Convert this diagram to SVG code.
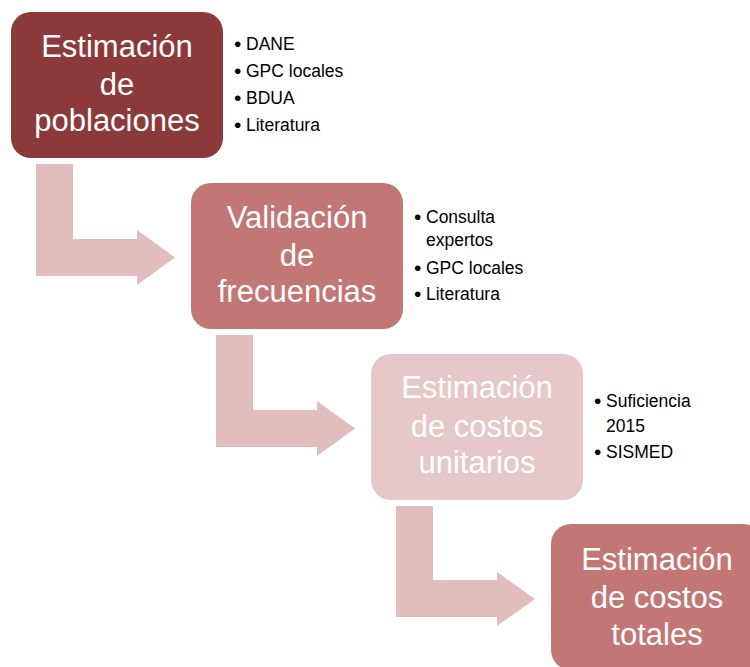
<svg xmlns="http://www.w3.org/2000/svg" width="750" height="667" viewBox="0 0 750 667">
<style>
.box{stroke:none}
.t{font-family:"Liberation Sans",Arial,sans-serif;font-size:31px;fill:#ffffff;text-anchor:middle}
.b{font-family:"Liberation Sans",Arial,sans-serif;font-size:17.5px;fill:#000000}
.d{font-family:"Liberation Sans",Arial,sans-serif;font-size:21px;fill:#000000}
.arrow{fill:#E1BEBD;stroke:none}
</style>
<rect width="750" height="667" fill="#ffffff"/>
<g id="connectors">
<path class="arrow" d="M36,164 L73,164 L73,239 L137,239 L137,230 L175,257.5 L137,285 L137,276 L36,276 Z"/>
<path class="arrow" d="M216,335 L253,335 L253,410 L317,410 L317,401 L355,428.5 L317,456 L317,447 L216,447 Z"/>
<path class="arrow" d="M396,506 L433,506 L433,580 L497,580 L497,572 L535,599 L497,626 L497,617 L396,617 Z"/>
</g>
<g id="node1">
<rect class="box" x="11" y="12" width="212" height="146" rx="20" fill="#8C3A39"/>
<text class="t" x="117" y="57">Estimación</text>
<text class="t" x="117" y="95">de</text>
<text class="t" x="117" y="131">poblaciones</text>
</g>
<g id="list1">
<text class="d" x="234" y="51">•</text><text class="b" x="246" y="50">DANE</text>
<text class="d" x="234" y="78">•</text><text class="b" x="246" y="77">GPC locales</text>
<text class="d" x="234" y="105">•</text><text class="b" x="246" y="104">BDUA</text>
<text class="d" x="234" y="132">•</text><text class="b" x="246" y="131">Literatura</text>
</g>
<g id="node2">
<rect class="box" x="191" y="183" width="212" height="146" rx="20" fill="#C37775"/>
<text class="t" x="297" y="228">Validación</text>
<text class="t" x="297" y="266">de</text>
<text class="t" x="297" y="302">frecuencias</text>
</g>
<g id="list2">
<text class="d" x="414" y="224">•</text><text class="b" x="426" y="223">Consulta</text>
<text class="b" x="426" y="246">expertos</text>
<text class="d" x="414" y="275">•</text><text class="b" x="426" y="274">GPC locales</text>
<text class="d" x="414" y="301">•</text><text class="b" x="426" y="300">Literatura</text>
</g>
<g id="node3">
<rect class="box" x="371" y="354" width="212" height="146" rx="20" fill="#E6C8C8"/>
<text class="t" x="477" y="398">Estimación</text>
<text class="t" x="477" y="437">de costos</text>
<text class="t" x="477" y="473">unitarios</text>
</g>
<g id="list3">
<text class="d" x="594" y="408">•</text><text class="b" x="606" y="407">Suficiencia</text>
<text class="b" x="606" y="432">2015</text>
<text class="d" x="594" y="459">•</text><text class="b" x="606" y="458">SISMED</text>
</g>
<g id="node4">
<rect class="box" x="551" y="524" width="212" height="146" rx="20" fill="#C37775"/>
<text class="t" x="657" y="570">Estimación</text>
<text class="t" x="657" y="608">de costos</text>
<text class="t" x="657" y="645">totales</text>
</g>
</svg>
